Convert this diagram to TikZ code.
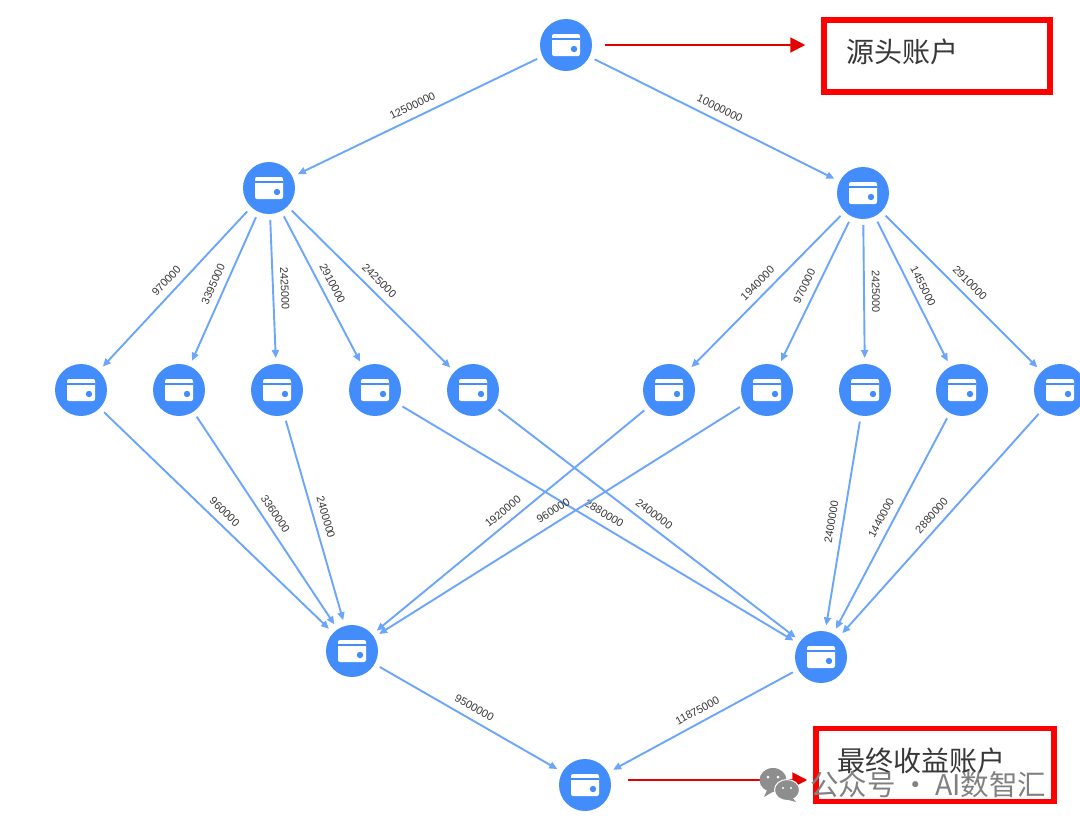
\documentclass[tikz,border=0pt]{standalone}
\usepackage{fontspec}
\setmainfont{Liberation Sans}
\newfontfamily\cjk{Noto Sans CJK SC}
\usetikzlibrary{positioning, calc, arrows.meta}
\definecolor{walletblue}{HTML}{438CFB}
\definecolor{txnblue}{HTML}{6BA5FC}
\definecolor{markgray}{HTML}{8E8E8E}
\tikzset{
  acct/.style={circle, fill=walletblue, minimum size=52, outer sep=6, path picture={
    \fill[white, rounded corners=2] ($(path picture bounding box.center)+(-14,-11)$)
      rectangle ($(path picture bounding box.center)+(14,11)$);
    \draw[walletblue, line width=1.2] ($(path picture bounding box.center)+(-14,-6)$)
      -- ($(path picture bounding box.center)+(14,-6)$);
    \fill[walletblue] ($(path picture bounding box.center)+(8,4)$) circle (3.2pt);
  }},
  txn/.style={-{Triangle[length=8, width=7]}, draw=txnblue, line width=1.9},
  amt/.style={midway, sloped, above=7pt, inner sep=0, text=black!78, font=\fontsize{11}{11}\selectfont},
  redflow/.style={-{Triangle[length=15, width=15]}, draw=red!90!black, line width=2},
  redbox/.style={draw=red, line width=5.5, inner sep=0},
  boxlabel/.style={inner sep=0, text=black!78, font=\fontsize{28}{28}\selectfont\cjk}
}
\begin{document}
\begin{tikzpicture}[x=1pt, y=-1pt]
    \useasboundingbox (0,0) rectangle (1080,828);
    % accounts
    \node[acct] (src) at (566,45) {};
    \node[acct] (a) at (269,188) {};
    \node[acct] (b) at (863,193) {};
    \node[acct] (a1) at (81,390) {};
    \node[acct] (a2) at (179,390) {};
    \node[acct] (a3) at (277,390) {};
    \node[acct] (a4) at (375,390) {};
    \node[acct] (a5) at (473,390) {};
    \node[acct] (b1) at (669,390) {};
    \node[acct] (b2) at (767,390) {};
    \node[acct] (b3) at (865,390) {};
    \node[acct] (b4) at (962,390) {};
    \node[acct] (b5) at (1060,390) {};
    \node[acct] (m1) at (352,651) {};
    \node[acct] (m2) at (821,657) {};
    \node[acct] (snk) at (585,785) {};
    % transfers
    \draw[txn] (src) -- (a) node[amt] {12500000};
    \draw[txn] (src) -- (b) node[amt] {10000000};
    \draw[txn] (a) -- (a1) node[amt] {970000};
    \draw[txn] (a) -- (a2) node[amt] {3395000};
    \draw[txn] (a) -- (a3) node[amt] {2425000};
    \draw[txn] (a) -- (a4) node[amt] {2910000};
    \draw[txn] (a) -- (a5) node[amt] {2425000};
    \draw[txn] (b) -- (b1) node[amt] {1940000};
    \draw[txn] (b) -- (b2) node[amt] {970000};
    \draw[txn] (b) -- (b3) node[amt] {2425000};
    \draw[txn] (b) -- (b4) node[amt] {1455000};
    \draw[txn] (b) -- (b5) node[amt] {2910000};
    \draw[txn] (a1) -- (m1) node[amt] {960000};
    \draw[txn] (a2) -- (m1) node[amt] {3360000};
    \draw[txn] (a3) -- (m1) node[amt] {2400000};
    \draw[txn] (a4) -- (m2) node[amt] {2880000};
    \draw[txn] (a5) -- (m2) node[amt] {2400000};
    \draw[txn] (b1) -- (m1) node[amt] {1920000};
    \draw[txn] (b2) -- (m1) node[amt] {960000};
    \draw[txn] (b3) -- (m2) node[amt] {2400000};
    \draw[txn] (b4) -- (m2) node[amt] {1440000};
    \draw[txn] (b5) -- (m2) node[amt] {2880000};
    \draw[txn] (m1) -- (snk) node[amt] {9500000};
    \draw[txn] (m2) -- (snk) node[amt] {11875000};
    % red call-outs
    \node[redbox, minimum width=226, minimum height=72] (srcbox) at (937,56) {};
    \node[boxlabel] (srclabel) at (902,52) {源头账户};
    \node[redbox, minimum width=238, minimum height=73] (snkbox) at (935,765) {};
    \node[boxlabel] (snklabel) at (921,761) {最终收益账户};
    \draw[redflow, shorten <=7, shorten >=16] (src.east) -- (src.east -| srcbox.west);
    \coordinate (snkout) at ($(snk.east)+(0,-5)$);
    \draw[redflow, shorten <=11, shorten >=6] (snkout) -- (snkout -| snkbox.west);
    % watermark
    \fill[markgray] (773,780) ellipse (13.5pt and 12pt);
    \fill[markgray] (768,788) -- (764,797) -- (776,790) -- cycle;
    \fill[markgray, draw=white, line width=1] (787,790) ellipse (12.5pt and 10.5pt);
    \fill[markgray] (792,797) -- (796,802) -- (785,799) -- cycle;
    \fill[white] (768,777) circle (1.5pt) (778,777) circle (1.5pt) (783,788) circle (1.2pt) (791,788) circle (1.2pt);
    \node[inner sep=0, text=black!50, font=\fontsize{28.5}{28.5}\selectfont\cjk, anchor=west] (mark) at (810,785) {公众号\hspace{6pt}·\hspace{5pt}AI数智汇};
\end{tikzpicture}
\end{document}
